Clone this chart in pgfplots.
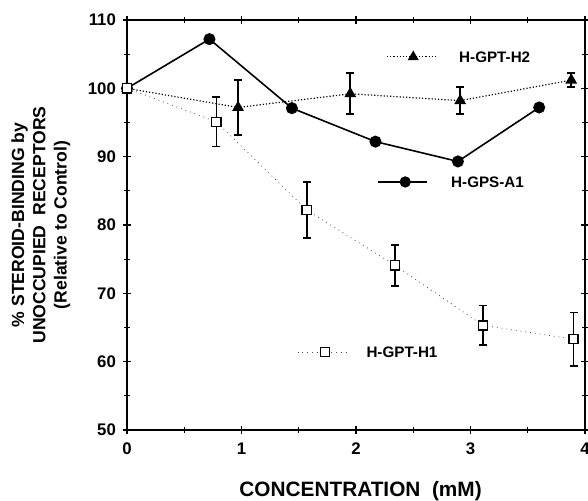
\documentclass[border=0pt]{standalone}
\usepackage{fontspec}
\setmainfont{Liberation Sans}
\usepackage{pgfplots}
\pgfplotsset{compat=1.18}

\begin{document}
\begin{tikzpicture}
\begin{axis}[
  scale only axis, width=229pt, height=205pt,
  xmin=0, xmax=4, ymin=50, ymax=110,
  xtick={0,1,2,3,4}, ytick={50,60,...,110},
  minor x tick num=1, minor y tick num=1,
  tick align=center, major tick length=4pt, minor tick length=3pt,
  axis line style={line width=0.8pt}, tick style={line width=0.6pt,black},
  /pgf/number format/assume math mode=true,
  tick label style={font=\fontsize{8.4}{10}\selectfont\bfseries},
  xticklabel style={yshift=-1pt},
  xlabel={CONCENTRATION\ \ (mM)},
  ylabel={\% STEROID-BINDING by\\UNOCCUPIED\ \ RECEPTORS\\(Relative to Control)},
  every axis x label/.style={at={(axis description cs:0.51,-0.163)},anchor=base,font=\fontsize{10.4}{12}\selectfont\bfseries},
  every axis y label/.style={at={(axis description cs:-0.188,0.5)},rotate=90,anchor=center,align=center,font=\fontsize{8.8}{10.6}\selectfont\bfseries},
  clip=false,
]
% H-GPS-A1
\addplot[black, line width=0.8pt, mark=*, mark size=2.6pt]
  coordinates {(0,100) (0.72,107.2) (1.44,97.1) (2.17,92.2) (2.89,89.3) (3.60,97.2)};
% H-GPT-H2
\addplot[black, line width=0.6pt, densely dotted, mark=triangle*, mark size=2.8pt, mark options={solid},
  error bars/.cd, y dir=both, y explicit,
  error bar style={solid,line width=0.8pt},
  error mark options={rotate=90, mark size=2pt, line width=0.8pt}]
  coordinates {(0,100) (0.97,97.2) +- (0,4.0) (1.95,99.2) +- (0,3.0) (2.91,98.2) +- (0,2.0) (3.88,101.2) +- (0,1.0)};
% H-GPT-H1
\addplot[black!70, line width=0.4pt, dotted, mark=square*, mark size=2.3pt,
  mark options={solid, fill=white, draw=black, line width=0.7pt},
  error bars/.cd, y dir=both, y explicit,
  error bar style={solid,black,line width=0.8pt},
  error mark options={rotate=90, black, mark size=2pt, line width=0.8pt}]
  coordinates {(0,100) (0.78,95.1) +- (0,3.6) (1.57,82.2) +- (0,4.1) (2.34,74.1) +- (0,3.0) (3.11,65.3) +- (0,2.9) (3.90,63.3) +- (0,3.9)};
% legend samples
\addplot[black, line width=0.6pt, densely dotted, mark=triangle*, mark size=2.6pt, mark options={solid}, mark indices={2}, forget plot]
  coordinates {(2.27,104.6) (2.50,104.6) (2.69,104.6)};
\addplot[black, line width=0.8pt, mark=*, mark size=2.4pt, mark indices={2}, forget plot]
  coordinates {(2.19,86.3) (2.43,86.3) (2.62,86.3)};
\addplot[black!70, line width=0.4pt, dotted, mark=square*, mark size=2.2pt,
  mark options={solid, fill=white, draw=black, line width=0.7pt}, mark indices={2}, forget plot]
  coordinates {(1.49,61.4) (1.73,61.4) (1.93,61.4)};
\node[anchor=west, font=\fontsize{7.6}{9}\selectfont\bfseries] at (axis cs:2.84,104.6) {H-GPT-H2};
\node[anchor=west, font=\fontsize{7.6}{9}\selectfont\bfseries] at (axis cs:2.77,86.3) {H-GPS-A1};
\node[anchor=west, font=\fontsize{7.6}{9}\selectfont\bfseries] at (axis cs:2.03,61.4) {H-GPT-H1};
\coordinate (sw) at (rel axis cs:0,0);
\coordinate (ne) at (rel axis cs:1,1);
\end{axis}
\pgfresetboundingbox
\path ([xshift=-63.5pt,yshift=-35.5pt]sw) rectangle ([xshift=1.5pt,yshift=10pt]ne);
\end{tikzpicture}
\end{document}
